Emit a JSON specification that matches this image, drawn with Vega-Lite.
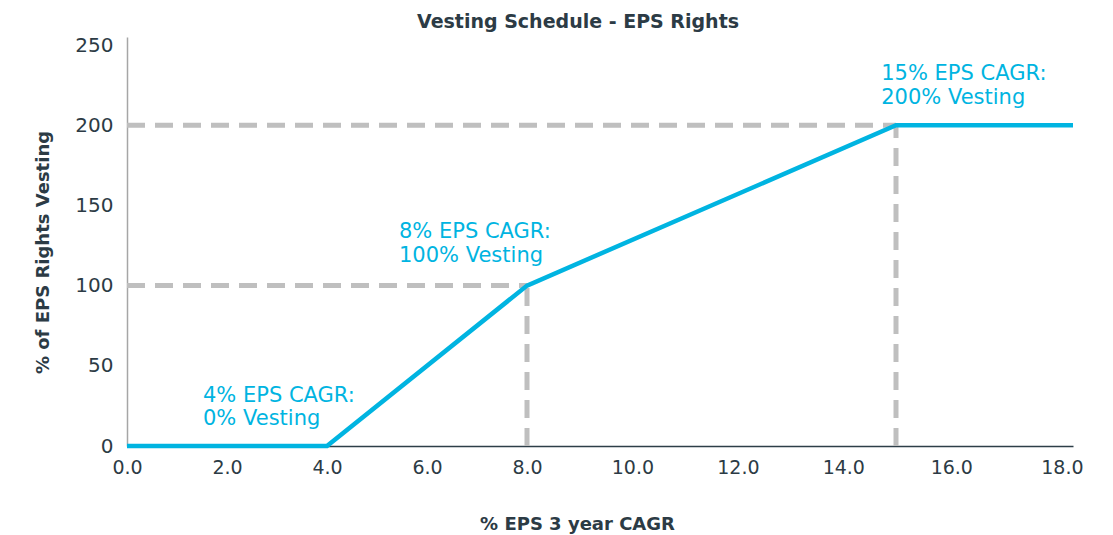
{
  "$schema": "https://vega.github.io/schema/vega-lite/v6.json",
  "autosize": {"type": "none"},
  "padding": {"left": 127, "top": 37, "right": 40, "bottom": 89},
  "width": 946,
  "height": 409,
  "background": "white",
  "config": {"view": {"stroke": null}, "font": "DejaVu Sans"},
  "title": {"text": "Vesting Schedule - EPS Rights", "fontSize": 19, "fontWeight": "bold", "color": "#2c3b45", "anchor": "middle", "dx": -22, "offset": 3, "font": "DejaVu Sans"},
  "datasets": {
    "curve": [
      {"cagr": 0, "vesting": 0},
      {"cagr": 4, "vesting": 0},
      {"cagr": 8, "vesting": 100},
      {"cagr": 15, "vesting": 200},
      {"cagr": 18.2, "vesting": 200}
    ],
    "guides": [
      {"x1": 0, "x2": 8, "y1": 100, "y2": 100},
      {"x1": 8, "x2": 8, "y1": 0, "y2": 100},
      {"x1": 0, "x2": 15, "y1": 200, "y2": 200},
      {"x1": 15, "x2": 15, "y1": 0, "y2": 200}
    ],
    "notes": [
      {"x": 1.52, "y": 27.4, "label": "4% EPS CAGR:"},
      {"x": 1.52, "y": 13.1, "label": "0% Vesting"},
      {"x": 5.44, "y": 129.7, "label": "8% EPS CAGR:"},
      {"x": 5.44, "y": 114.7, "label": "100% Vesting"},
      {"x": 14.72, "y": 228.2, "label": "15% EPS CAGR:"},
      {"x": 14.72, "y": 213.2, "label": "200% Vesting"}
    ]
  },
  "layer": [
    {
      "data": {"name": "guides"},
      "mark": {"type": "rule", "color": "#bfbfbf", "strokeWidth": 5, "strokeDash": [18, 10]},
      "encoding": {
        "x": {"field": "x1", "type": "quantitative",
              "scale": {"domain": [0, 8, 15, 18.2], "range": [0, 400, 769, 946], "nice": false, "zero": false},
              "axis": {"values": [0, 2, 4, 6, 8, 10, 12, 14, 16, 18], "format": ".1f", "grid": false, "ticks": false,
                       "domainColor": "#2d3e48", "domainWidth": 1.5, "labelFontSize": 19, "labelColor": "#2c3b45",
                       "labelPadding": 12, "labelFont": "DejaVu Sans",
                       "title": "% EPS 3 year CAGR", "titleFontSize": 18, "titleFontWeight": "bold", "titleColor": "#2c3b45",
                       "titleFont": "DejaVu Sans", "titlePadding": 38, "titleX": 450, "labelFlush": false}},
        "x2": {"field": "x2"},
        "y": {"field": "y1", "type": "quantitative",
              "scale": {"domain": [0, 255], "nice": false, "zero": true},
              "axis": {"values": [0, 50, 100, 150, 200, 250], "grid": false, "ticks": false,
                       "domainColor": "#a6a6a6", "domainWidth": 1.5, "labelFontSize": 20, "labelColor": "#2c3b45",
                       "labelPadding": 14, "labelFont": "DejaVu Sans",
                       "title": "% of EPS Rights Vesting", "titleFontSize": 18, "titleFontWeight": "bold", "titleColor": "#2c3b45",
                       "titleFont": "DejaVu Sans", "titlePadding": 22, "titleY": 215}},
        "y2": {"field": "y2"}
      }
    },
    {
      "data": {"name": "curve"},
      "mark": {"type": "line", "color": "#00b4e1", "strokeWidth": 4.5},
      "encoding": {
        "x": {"field": "cagr", "type": "quantitative"},
        "y": {"field": "vesting", "type": "quantitative"}
      }
    },
    {
      "data": {"name": "notes"},
      "mark": {"type": "text", "align": "left", "baseline": "alphabetic", "fontSize": 21, "color": "#00b4e1", "font": "DejaVu Sans"},
      "encoding": {
        "x": {"field": "x", "type": "quantitative"},
        "y": {"field": "y", "type": "quantitative"},
        "text": {"field": "label"}
      }
    }
  ]
}
